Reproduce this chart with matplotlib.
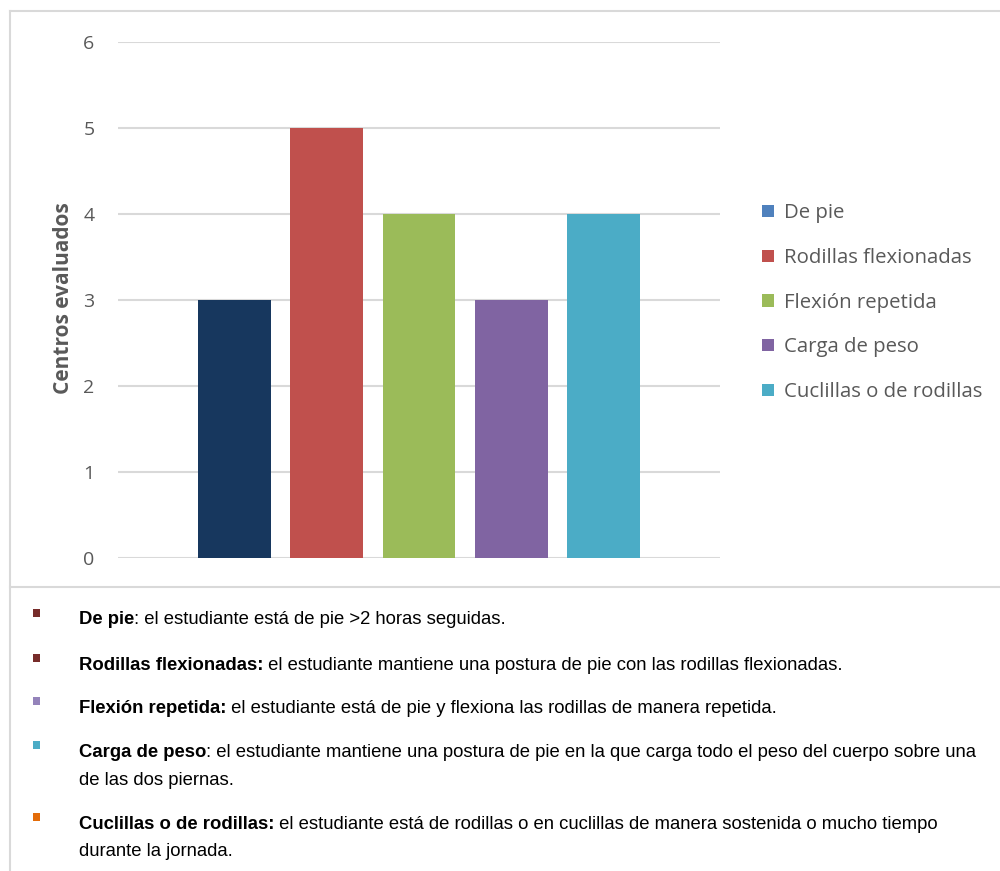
import matplotlib.pyplot as plt
from matplotlib.lines import Line2D
from matplotlib.patches import Patch, Rectangle

# Posturas evaluadas y numero de centros
posturas = ["De pie", "Rodillas flexionadas", "Flexión repetida",
            "Carga de peso", "Cuclillas o de rodillas"]
centros = [3, 5, 4, 3, 4]
colores_barra = ["#17375E", "#C0504D", "#9BBB59", "#8064A2", "#4BACC6"]
colores_leyenda = ["#4F81BD", "#C0504D", "#9BBB59", "#8064A2", "#4BACC6"]

# Notas explicativas bajo la grafica: (titulo en negrita, texto, lineas extra)
notas_titulo = ["De pie", "Rodillas flexionadas:", "Flexión repetida:",
                "Carga de peso", "Cuclillas o de rodillas:"]
notas_texto = [
    ": el estudiante está de pie >2 horas seguidas.",
    " el estudiante mantiene una postura de pie con las rodillas flexionadas.",
    " el estudiante está de pie y flexiona las rodillas de manera repetida.",
    ": el estudiante mantiene una postura de pie en la que carga todo el peso del cuerpo sobre una",
    " el estudiante está de rodillas o en cuclillas de manera sostenida o mucho tiempo",
]
notas_extra = ["", "", "", "de las dos piernas.", "durante la jornada."]
notas_color = ["#772C2A", "#772C2A", "#9483BA", "#4BACC6", "#E36C09"]

W, H = 1000, 871
fig = plt.figure(figsize=(W / 100, H / 100), dpi=100)
gris = "#595959"
font_chart = "Open Sans"


def px(x, y):
    return x / W, 1 - y / H


# marco del grafico y del cuadro de notas
lc = "#D9D9D9"
for xs, ys in [((10, 1000), (11, 11)), ((10, 10), (11, 871)), ((10, 1000), (587, 587))]:
    (x0, y0), (x1, y1) = px(xs[0], ys[0]), px(xs[1], ys[1])
    fig.add_artist(Line2D([x0, x1], [y0, y1], color=lc, lw=1.5))

x0, y1 = px(118, 42)
x1, y0 = px(720, 558)
ax = fig.add_axes([x0, y0, x1 - x0, y1 - y0])

pos = list(range(len(posturas)))
ax.bar(pos, centros, width=0.79, color=colores_barra, zorder=3)
ax.set_xlim(-1.262, 5.262)
ax.set_ylim(0, 6)
ax.set_yticks(range(0, 7))
ax.set_xticks([])
ax.yaxis.grid(True, color=lc, lw=1.5, zorder=0)
for s in ["top", "right", "left", "bottom"]:
    ax.spines[s].set_visible(False)
ax.tick_params(axis="y", length=0, pad=17, labelsize=14, labelcolor=gris)
for lab in ax.get_yticklabels():
    lab.set_family(font_chart)
ax.set_ylabel("Centros evaluados", fontsize=15, fontweight="bold", color=gris,
              family=font_chart)
ax.yaxis.label.set_va("center")
ax.yaxis.set_label_coords(-0.09, 0.504)

handles = [Patch(facecolor=c, edgecolor="none") for c in colores_leyenda]
fig.legend(handles, posturas, loc="upper left", bbox_to_anchor=(744 / W, 1 - 185 / H),
           frameon=False, handlelength=0.55, handleheight=0.55,
           handletextpad=0.5, labelspacing=1.21, labelcolor=gris,
           prop={"family": font_chart, "size": 14.7})

# notas con vinetas cuadradas
font_notas = "Liberation Sans"
size_notas = 13.35
y_lineas = [618, 663, 706, 750, 822]
y_extra = [None, None, None, 778, 849]
fig.canvas.draw()
renderer = fig.canvas.get_renderer()
for i in range(len(notas_titulo)):
    y = y_lineas[i]
    bx, by = px(33, y - 1)
    fig.add_artist(Rectangle((bx, by), 7 / W, 8 / H, transform=fig.transFigure,
                             facecolor=notas_color[i], edgecolor="none"))
    tx, ty = px(79, y)
    t = fig.text(tx, ty, notas_titulo[i], fontsize=size_notas, fontweight="bold",
                 family=font_notas, va="center_baseline", color="black")
    bb = t.get_window_extent(renderer)
    fig.text(bb.x1 / W, ty, notas_texto[i], fontsize=size_notas, family=font_notas,
             va="center_baseline", color="black")
    if notas_extra[i]:
        ex, ey = px(79, y_extra[i])
        fig.text(ex, ey, notas_extra[i], fontsize=size_notas, family=font_notas,
                 va="center_baseline", color="black")

fig.savefig("out.png", dpi=100)
